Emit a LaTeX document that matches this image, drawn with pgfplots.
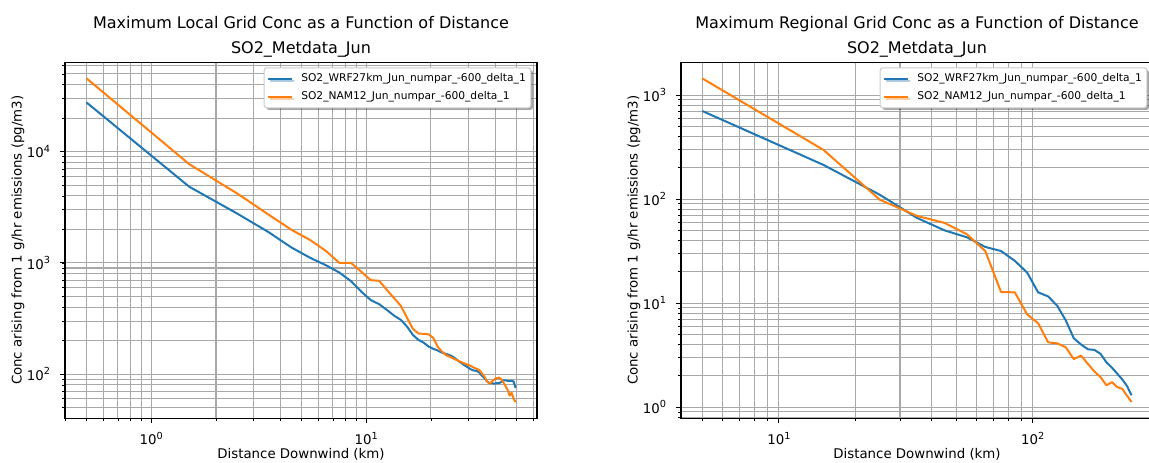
\documentclass[border=0pt]{standalone}
\usepackage{fontspec}
\setmainfont{DejaVu Sans}
\usepackage{pgfplots}
\pgfplotsset{compat=1.18}
\usetikzlibrary{shadows}

\definecolor{mplblue}{HTML}{1F77B4}
\definecolor{mplorange}{HTML}{FF7F0E}
\definecolor{gridgray}{HTML}{A8A8A8}
\definecolor{legendedge}{HTML}{CCCCCC}

% log tick label as 10 with a raised exponent, set in the text font
\newcommand{\logticklabel}{10\raisebox{0.42em}{\fontsize{7.3}{8}\selectfont\pgfmathparse{int(round(\tick/2.302585093))}\pgfmathresult}}

\pgfplotsset{
  every axis/.append style={
    xmode=log, ymode=log,
    scale only axis, width=354pt, height=267pt,
    axis line style={line width=0.8pt},
    grid=both,
    major grid style={draw=gridgray, line width=0.8pt},
    minor grid style={draw=gridgray, line width=0.8pt},
    tick align=outside, tick pos=left,
    major tick length=3.5pt, minor tick length=2pt,
    tick style={black, line width=0.8pt},
    minor tick style={black, line width=0.6pt},
    tick label style={font=\fontsize{10}{12}\selectfont},
    xticklabel={\logticklabel},
    yticklabel={\logticklabel},
    xticklabel style={anchor=base, inner sep=0pt, yshift=-16.5pt},
    yticklabel style={anchor=east, inner sep=0pt, xshift=-7.5pt},
    xlabel={Distance Downwind (km)},
    ylabel={Conc arising from 1 g/hr emissions (pg/m3)},
    legend cell align=left,
    legend style={at={(1,1)}, anchor=north east, xshift=-4.2pt, yshift=-3.75pt,
      draw=legendedge, line width=0.8pt, fill=white, rounded corners=2pt,
      font=\fontsize{8}{10}\selectfont,
      inner xsep=2.2pt, inner ysep=1.5pt, row sep=0pt, column sep=4.6pt,
      nodes={inner xsep=1.6pt, inner ysep=2.5pt, text height=6.4pt, text depth=2.1pt},
      drop shadow={shadow xshift=1.6pt, shadow yshift=-1.6pt, fill=black, opacity=0.35}},
  },
  every axis x label/.style={at={([yshift=-30.5pt]axis description cs:0.5,0)}, anchor=base, font=\fontsize{10}{12}\selectfont},
  every axis y label/.style={at={([xshift=-32.6pt]axis description cs:0,0.5)}, rotate=90, anchor=base, font=\fontsize{10}{12}\selectfont},
  legend image code/.code={\draw[#1] (0pt,0pt) -- (18pt,0pt);},
  curve/.style={line width=1.5pt, line join=round},
}

\begin{document}
\begin{tikzpicture}

% Local grid
\begin{axis}[
  xmin=0.397, xmax=62.3, ymin=40.1, ymax=63700,
  extra description/.code={
    \node[anchor=base, font=\fontsize{12}{14}\selectfont] at ([yshift=25.5pt]axis description cs:0.5,1) {Maximum Local Grid Conc as a Function of Distance};
    \node[anchor=base, font=\fontsize{12}{14}\selectfont] at ([yshift=6.2pt]axis description cs:0.5,1) {SO2\_Metdata\_Jun};
  }]
\addplot[curve, mplblue] coordinates {
(0.5,27700)(1.5,4850)(2.5,2790)(3.5,1900)(4.5,1372)(5.5,1108)(6.5,953)(7.5,819)(8.5,685)(9.5,550)
(10.5,463)(11.5,425)(12.5,377)(13.5,335)(14.5,307)(15.5,267)(16.5,225)(17.5,203)(18.5,192)(19.5,177)
(20.5,169)(21.5,163)(22.5,156)(23.5,152)(24.5,148)(25.5,142)(26.5,134)(27.5,127)(28.5,121)(29.5,116)
(30.5,111)(31.5,108)(32.5,107)(33.5,104)(34.5,97)(35.5,92)(36.5,86)(37.5,83)(38.5,83)(39.5,82)
(40.5,83)(41.5,83)(42.5,85)(43.5,88)(44.5,88)(45.5,87)(46.5,87)(47.5,87)(48.5,86)(49.5,75)};
\addlegendentry{SO2\_WRF27km\_Jun\_numpar\_-600\_delta\_1}
\addplot[curve, mplorange] coordinates {
(0.5,45600)(1.5,7740)(2.5,4230)(3.5,2730)(4.5,1980)(5.5,1600)(6.5,1280)(7.5,1000)(8.5,1000)(9.5,830)
(10.5,700)(11.5,690)(12.5,569)(13.5,480)(14.5,410)(15.5,320)(16.5,255)(17.5,232)(18.5,230)(19.5,228)
(20.5,212)(21.5,176)(22.5,160)(23.5,148)(24.5,143)(25.5,138)(26.5,133)(27.5,129)(28.5,125)(29.5,122)
(30.5,119)(31.5,115)(32.5,112)(33.5,109)(34.5,102)(35.5,95)(36.5,86)(37.5,82)(38.5,86)(39.5,90)
(40.5,92)(41.5,93)(42.5,90)(43.5,84)(44.5,78)(45.5,72)(46.5,64)(47.5,68)(48.5,60)(49.5,56)};
\addlegendentry{SO2\_NAM12\_Jun\_numpar\_-600\_delta\_1}
\end{axis}

% Regional grid
\begin{axis}[at={(462pt,0pt)}, anchor=south west,
  xmin=4.117, xmax=297.6, ymin=0.782, ymax=2070,
  extra description/.code={
    \node[anchor=base, font=\fontsize{12}{14}\selectfont] at ([yshift=25.5pt]axis description cs:0.5,1) {Maximum Regional Grid Conc as a Function of Distance};
    \node[anchor=base, font=\fontsize{12}{14}\selectfont] at ([yshift=6.2pt]axis description cs:0.5,1) {SO2\_Metdata\_Jun};
  }]
\addplot[curve, mplblue] coordinates {
(5,703)(15,213)(25,110)(35,66)(45,50)(55,43)(65,34.7)(75,31.7)(85,25.5)(95,19.7)
(105,12.7)(115,11.6)(125,9.4)(135,6.8)(145,4.6)(155,4.0)(165,3.6)(175,3.55)(185,3.25)(195,2.7)
(205,2.4)(215,2.1)(225,1.85)(235,1.6)(245,1.3)};
\addlegendentry{SO2\_WRF27km\_Jun\_numpar\_-600\_delta\_1}
\addplot[curve, mplorange] coordinates {
(5,1445)(15,297)(25,98.6)(35,69)(45,59)(55,46)(65,31.7)(75,12.8)(85,12.7)(95,7.8)
(105,6.4)(115,4.2)(125,4.1)(135,3.76)(145,2.9)(155,3.13)(165,2.6)(175,2.2)(185,1.94)(195,1.62)
(205,1.74)(215,1.56)(225,1.5)(235,1.29)(245,1.12)};
\addlegendentry{SO2\_NAM12\_Jun\_numpar\_-600\_delta\_1}
\end{axis}

\pgfresetboundingbox
\path (-48.75pt,-33.5pt) rectangle (813pt,313.7pt);
\end{tikzpicture}
\end{document}
